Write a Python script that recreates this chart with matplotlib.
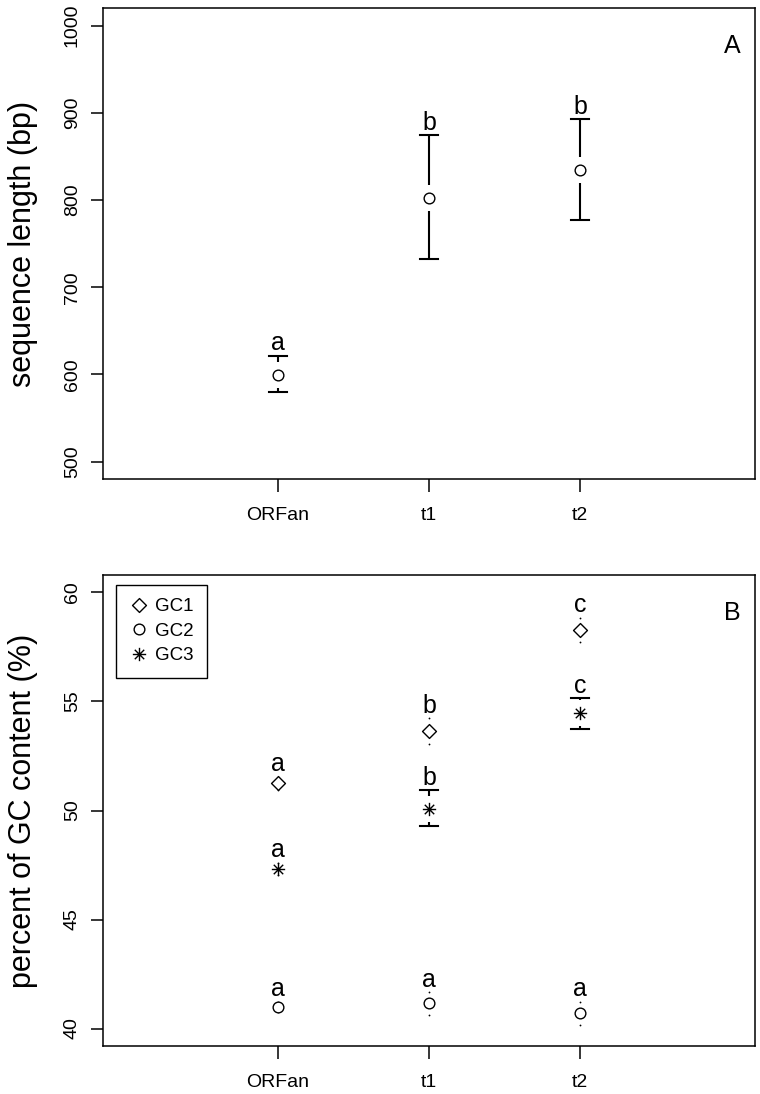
'''
Longitud de secuencia (A) y contenido GC (B)
de ORFan, t1 y t2, con intervalos y letras de grupo
'''
import matplotlib
matplotlib.use("Agg")
import matplotlib.pyplot as plt
from matplotlib.path import Path

plt.rcParams['font.family'] = ['Liberation Sans', 'DejaVu Sans']

# Categorias
grupos = ["ORFan", "t1", "t2"]
xpos = [1, 2, 3]

# Panel A: longitud (bp)
long_media = [599.7, 802.7, 835.0]
long_inf = [579.4, 732.2, 777.4]
long_sup = [621.6, 874.1, 892.5]
long_letras = ["a", "b", "b"]

# Panel B: contenido GC (%)
gc1_media = [51.24, 53.65, 58.30]
gc1_inf = [50.94, 53.07, 57.75]
gc1_sup = [51.54, 54.23, 58.85]
gc1_letras = ["a", "b", "c"]

gc2_media = [40.98, 41.15, 40.70]
gc2_inf = [40.74, 40.64, 40.16]
gc2_sup = [41.22, 41.66, 41.24]
gc2_letras = ["a", "a", "a"]

gc3_media = [47.33, 50.05, 54.45]
gc3_inf = [47.05, 49.27, 53.73]
gc3_sup = [47.61, 50.92, 55.15]
gc3_letras = ["a", "b", "c"]

# Marcadores estilo R (pch 5 y pch 8)
DIAMANTE = Path([(0, 1), (1, 0), (0, -1), (-1, 0), (0, 1)],
                [Path.MOVETO, Path.LINETO, Path.LINETO, Path.LINETO, Path.CLOSEPOLY])
r = 0.7071
ASTERISCO = Path([(-1, 0), (1, 0), (0, -1), (0, 1), (-r, -r), (r, r), (-r, r), (r, -r)],
                 [Path.MOVETO, Path.LINETO] * 4)

W, H = 760, 1094
XLIM = (-0.16, 4.16)
CAP = 0.06
HUECO_PX = 13


def intervalos(ax, media, inf, sup, letras, marker, ms, label=None):
    y0, y1 = ax.get_ylim()
    alto_px = ax.get_position().height * H
    hueco = HUECO_PX * (y1 - y0) / alto_px
    for x, m, lo, hi, let in zip(xpos, media, inf, sup, letras):
        for extremo, borde in ((hi, m + hueco), (lo, m - hueco)):
            if abs(extremo - m) > hueco:
                ax.plot([x, x], [extremo, borde], color='k', lw=1.5, solid_capstyle='butt')
                ax.plot([x - CAP, x + CAP], [extremo, extremo], color='k', lw=1.5)
            else:
                ax.plot(x, extremo, 'o', color='k', ms=1.3, mew=0)
        ax.annotate(let, (x, hi), xytext=(0, 4), textcoords='offset points',
                    ha='center', va='baseline', fontsize=18)
    ln, = ax.plot(xpos, media, linestyle='none', marker=marker, ms=ms,
                  mfc='white', mec='k', mew=1.0, label=label)
    return ln


def estilo(ax, ylim, yticks, ylabel, panel):
    ax.set_xlim(*XLIM)
    ax.set_ylim(*ylim)
    ax.set_xticks(xpos, grupos)
    ax.set_yticks(yticks)
    for s in ax.spines.values():
        s.set_linewidth(1.1)
    ax.tick_params(axis='both', length=9, width=1.1, labelsize=14)
    ax.tick_params(axis='x', pad=11)
    ax.tick_params(axis='y', pad=7, labelrotation=90)
    for t in ax.get_yticklabels():
        t.set_va('center')
    ax.set_ylabel(ylabel, fontsize=22)
    ax.yaxis.label.set_va('center')
    ax.yaxis.set_label_coords(-0.1227, 0.5)
    ax.text(0.965, 0.92, panel, transform=ax.transAxes, fontsize=18,
            ha='center', va='center')


def graficos():
    fig = plt.figure(figsize=(W / 100, H / 100), dpi=100)
    ax1 = fig.add_axes([103 / W, 1 - 479 / H, 652 / W, 470.7 / H])
    ax2 = fig.add_axes([103 / W, 1 - 1046 / H, 652 / W, 471 / H])

    estilo(ax1, (480, 1020), range(500, 1001, 100), "sequence length (bp)", "A")
    intervalos(ax1, long_media, long_inf, long_sup, long_letras, 'o', 7.7)

    estilo(ax2, (39.2, 60.8), range(40, 61, 5), "percent of GC content (%)", "B")
    h1 = intervalos(ax2, gc1_media, gc1_inf, gc1_sup, gc1_letras, DIAMANTE, 10, "GC1")
    h2 = intervalos(ax2, gc2_media, gc2_inf, gc2_sup, gc2_letras, 'o', 7.7, "GC2")
    h3 = intervalos(ax2, gc3_media, gc3_inf, gc3_sup, gc3_letras, ASTERISCO, 9.6, "GC3")
    leg = ax2.legend(handles=[h1, h2, h3], loc='upper left', bbox_to_anchor=(0.02, 0.979),
                     borderaxespad=0, fancybox=False, edgecolor='k', framealpha=1,
                     fontsize=13.5, handlelength=1, handletextpad=0.4,
                     labelspacing=0.4, borderpad=0.7)
    leg.get_frame().set_linewidth(1.0)

    fig.savefig("out.png", dpi=100)


if __name__ == '__main__':
    graficos()
